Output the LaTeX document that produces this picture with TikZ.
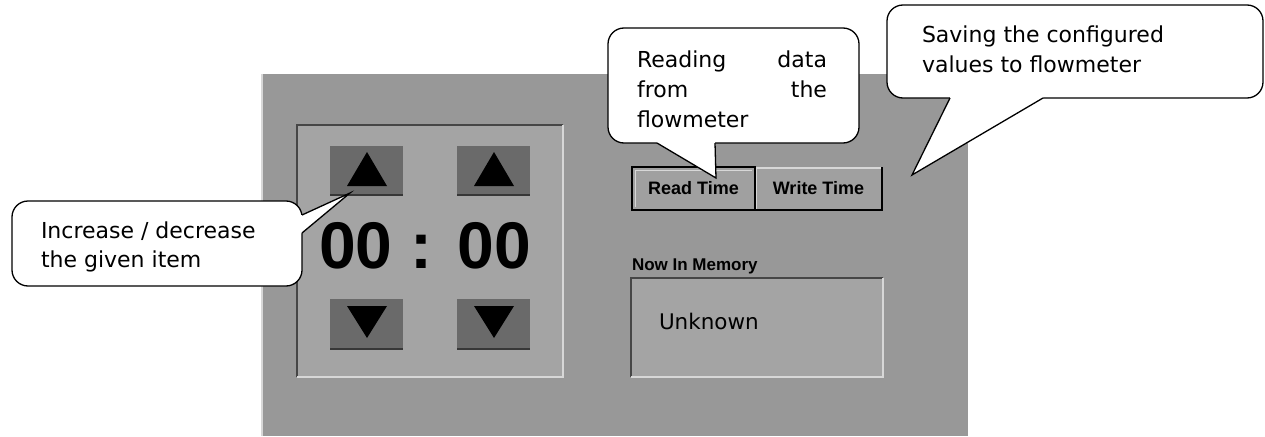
\documentclass[tikz,border=0pt]{standalone}
\usepackage{fontspec}
\setmainfont{DejaVu Sans}
\newfontfamily\libsans{Liberation Sans}
\usetikzlibrary{calc}
\definecolor{panelgrey}{RGB}{152,152,152}
\definecolor{boxgrey}{RGB}{164,164,164}
\definecolor{btngrey}{RGB}{106,106,106}
\definecolor{btndark}{RGB}{55,55,55}
\definecolor{edgedark}{RGB}{70,70,70}
\definecolor{edgelight}{RGB}{215,215,215}
\definecolor{cmdgrey}{RGB}{160,160,160}
\begin{document}
\begin{tikzpicture}[x=1pt,y=-1pt,
  every node/.style={inner sep=0pt, outer sep=0pt},
  sunkbox/.style={fill=boxgrey, anchor=north west},
  arrowbtn/.style={fill=btngrey, anchor=north west, minimum width=73pt},
  cmdbtn/.style={fill=cmdgrey, anchor=north west, minimum height=43pt,
    font=\libsans\bfseries\fontsize{18}{18}\selectfont},
  callbody/.style={draw=black, line width=1.3pt, fill=white, rounded corners=16pt, anchor=north west},
  calltext/.style={font=\fontsize{22}{29.5}\selectfont, align=left, anchor=base west},
  tri/.style={fill=black}]
\useasboundingbox (0,0) rectangle (1265,436);
\fill[white] (0,0) rectangle (1265,436);

% main panel
\node[fill=panelgrey, anchor=north west, minimum width=706pt, minimum height=362pt] (panel) at (262,74) {};
\draw[edgelight, line width=1.5pt] (panel.north west) -- (panel.south west);

% clock frame
\node[sunkbox, minimum width=266pt, minimum height=252pt] (clock) at (297,125) {};
\draw[edgedark, line width=1.5pt] (clock.south west) -- (clock.north west) -- (clock.north east);
\draw[edgelight, line width=1.5pt] (clock.north east) -- (clock.south east) -- (clock.south west);

% arrow buttons
\foreach \nm/\x/\y/\h in {uh/330/146/50, um/457/146/50, dh/330/299/51, dm/457/299/51}{
  \node[arrowbtn, minimum height=\h pt] (\nm) at (\x,\y) {};
  \draw[btndark, line width=2.5pt] ($(\nm.south west)+(0,-1.2)$) -- ($(\nm.south east)+(0,-1.2)$);
}
\foreach \nm in {uh, um}{
  \fill[tri] ($(\nm.north)+(0.5,6)$) -- ($(\nm.south)+(-19.5,-10)$) -- ($(\nm.south)+(20.5,-10)$) -- cycle;
}
\foreach \nm in {dh, dm}{
  \fill[tri] ($(\nm.north)+(-19.5,7)$) -- ($(\nm.north)+(20.5,7)$) -- ($(\nm.south)+(0.5,-12)$) -- cycle;
}

% time display
\node[font=\libsans\bfseries\fontsize{66}{66}\selectfont] (time) at (425,246) {00 : 00};

% read / write buttons
\node[cmdbtn, minimum width=123pt] (read) at (632,167) {Read Time};
\node[cmdbtn, minimum width=127pt] (write) at (755,167) {Write Time};
\draw[edgelight, line width=1.5pt] ($(write.south west)+(1,-1)$) -- ($(write.north west)+(1,1)$) -- ($(write.north east)+(-1,1)$);
\draw[black, line width=2pt] (write.north east) -- (write.south east) -- (write.south west);
\draw[edgelight, line width=1pt] ($(read.south west)+(3,-3)$) -- ($(read.north west)+(3,3)$) -- ($(read.north east)+(-3,3)$);
\draw[black, line width=2.2pt] (read.north west) rectangle (read.south east);

% memory
\node[font=\libsans\bfseries\fontsize{17}{17}\selectfont, anchor=base west] (memlabel) at (632,270) {Now In Memory};
\node[sunkbox, minimum width=252pt, minimum height=99pt] (mem) at (631,278) {};
\draw[edgedark, line width=1.5pt] (mem.south west) -- (mem.north west) -- (mem.north east);
\draw[edgelight, line width=1.5pt] (mem.north east) -- (mem.south east) -- (mem.south west);
\node[font=\fontsize{21.5}{21.5}\selectfont, anchor=base west] (memval) at (659,329) {Unknown};

% callout 1
\node[callbody, minimum width=290pt, minimum height=85pt] (c1) at (12,201) {};
\coordinate (c1tip) at (350,193);
\coordinate (c1a) at ($(c1.north east)+(0,14)$);
\coordinate (c1b) at ($(c1.north east)+(0,32)$);
\fill[white] (c1a) -- (c1tip) -- (c1b) -- ($(c1b)+(-5,0)$) -- ($(c1a)+(-5,0)$) -- cycle;
\draw[line width=1.3pt, line join=miter] (c1a) -- (c1tip) -- (c1b);
\node[calltext] (t1) at (41,267.5) {Increase / decrease\\the given item};

% callout 2
\node[callbody, minimum width=251pt, minimum height=115pt] (c2) at (608,28) {};
\coordinate (c2tip) at (716,178);
\coordinate (c2a) at ($(c2.south west)+(49,0)$);
\coordinate (c2b) at ($(c2.south west)+(107,0)$);
\fill[white] (c2a) -- (c2tip) -- (c2b) -- ($(c2b)+(0,-5)$) -- ($(c2a)+(0,-5)$) -- cycle;
\draw[line width=1.3pt, line join=miter] (c2a) -- (c2tip) -- (c2b);
\node[calltext, font=\fontsize{22}{30}\selectfont] (t2) at (637,127) {\hbox to 190pt{Reading\hfill data}\\\hbox to 190pt{from\hfill the}\\flowmeter};

% callout 3
\node[callbody, minimum width=376pt, minimum height=93pt] (c3) at (887,5) {};
\coordinate (c3tip) at (912,175);
\coordinate (c3a) at ($(c3.south west)+(63,0)$);
\coordinate (c3b) at ($(c3.south west)+(156,0)$);
\fill[white] (c3a) -- (c3tip) -- (c3b) -- ($(c3b)+(0,-5)$) -- ($(c3a)+(0,-5)$) -- cycle;
\draw[line width=1.3pt, line join=miter] (c3a) -- (c3tip) -- (c3b);
\node[calltext] (t3) at (922,72.5) {Saving the configured\\values to flowmeter};
\end{tikzpicture}
\end{document}
